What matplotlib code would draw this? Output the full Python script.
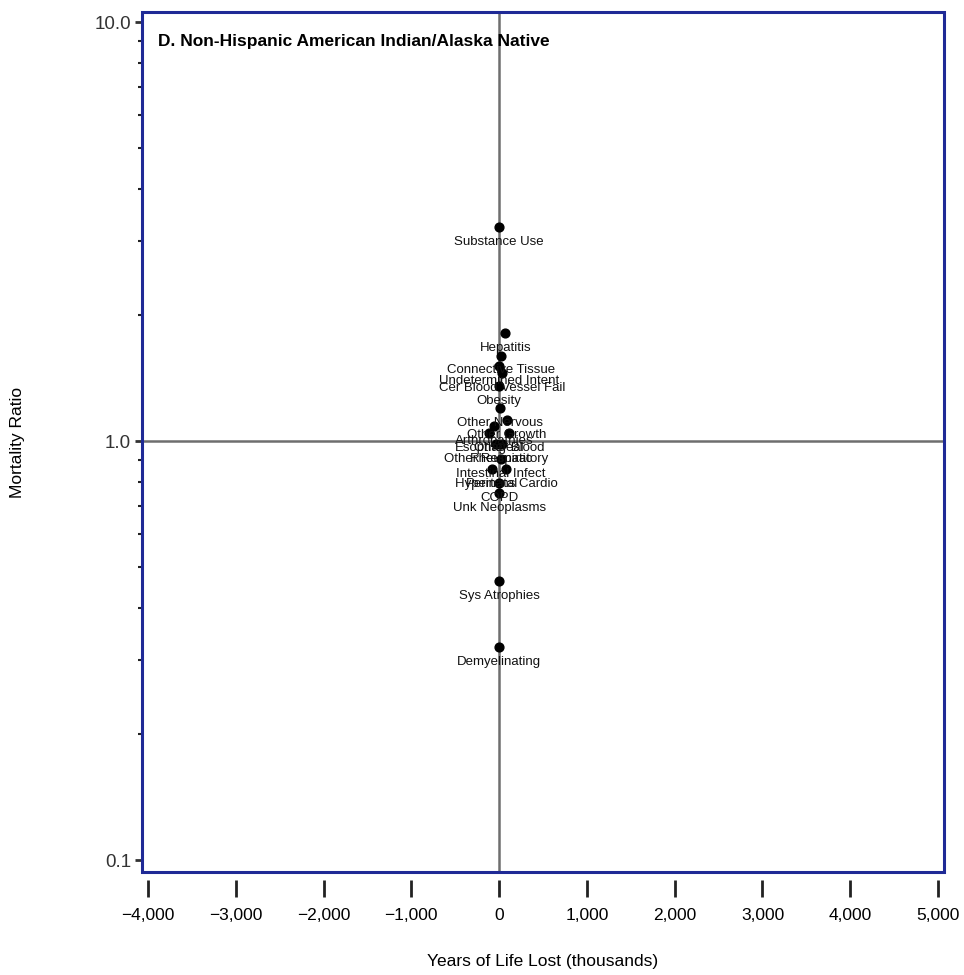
import matplotlib.pyplot as plt
from matplotlib.patches import Rectangle
from matplotlib.ticker import FuncFormatter, LogLocator

plt.rcParams['font.family'] = ['Liberation Sans', 'DejaVu Sans']

# cause labels, years of life lost (thousands) and mortality ratio
causes = ["Substance Use", "Hepatitis", "Connective Tissue", "Undetermined Intent",
          "Cer Blood Vessel Fail", "Obesity", "Other Nervous", "Other Growth",
          "Arthropathies", "Esophageal", "Other Blood", "Other Respiratory",
          "Rheumatic", "Intestinal Infect", "Perinatal", "Hypertens Cardio",
          "COPD", "Unk Neoplasms", "Sys Atrophies", "Demyelinating"]
yll = [0, 70, 20, 0, 30, 0, 10, 90, -60, -110, 110, -30, 30, 20, -80, 80,
       0, 0, 0, 0]
ratio = [3.24, 1.81, 1.60, 1.51, 1.45, 1.35, 1.20, 1.12, 1.086, 1.045, 1.045,
         0.984, 0.984, 0.906, 0.857, 0.857, 0.794, 0.751, 0.463, 0.322]

xticks = [-4000, -3000, -2000, -1000, 0, 1000, 2000, 3000, 4000, 5000]

fig = plt.figure(figsize=(9.64, 9.75), dpi=100)
ax = fig.add_axes([0.1473, 0.1056, 0.832, 0.882])

ax.axvline(0, color='#6e6e6e', lw=1.8, zorder=1)
ax.axhline(1.0, color='#6e6e6e', lw=1.8, zorder=1)

ax.scatter(yll, ratio, s=40, color='black', zorder=3)
for name, x, y in zip(causes, yll, ratio):
    ax.annotate(name, (x, y), xytext=(0, -10.5), textcoords='offset points',
                ha='center', va='center', fontsize=9.5, color='#111111',
                zorder=4)

ax.set_yscale('log')
ax.set_ylim(0.0936, 10.57)
ax.set_xlim(-4068, 5068)
ax.set_yticks([0.1, 1.0, 10.0])
ax.yaxis.set_major_formatter(FuncFormatter(lambda v, p: f"{v:.1f}"))
ax.yaxis.set_minor_locator(LogLocator(base=10, subs=range(2, 10)))
ax.yaxis.set_minor_formatter(FuncFormatter(lambda v, p: ""))
ax.set_xticks(xticks)
ax.set_xticklabels([f"{t:,}".replace("-", "\u2212") for t in xticks])

for s in ax.spines.values():
    s.set_visible(False)
ax.spines['bottom'].set_position(('outward', 6))
ax.add_patch(Rectangle((0, 0), 1, 1, transform=ax.transAxes, fill=False,
                       ec='#1f2a96', lw=2.2, clip_on=False, zorder=5))

ax.tick_params(axis='x', direction='out', length=12, width=2, pad=8,
               labelsize=12.5, color='#222222')
ax.tick_params(axis='y', which='major', direction='out', length=5, width=2,
               pad=3, labelsize=13.5, color='#333333', labelcolor='#333333')
ax.tick_params(axis='y', which='minor', direction='out', length=3, width=1.5,
               color='#222222')

ax.text(0.02, 0.975, "D. Non-Hispanic American Indian/Alaska Native",
        transform=ax.transAxes, ha='left', va='top', fontsize=12.5,
        fontweight='bold')

ax.set_xlabel("Years of Life Lost (thousands)", fontsize=12.5, labelpad=22)
ax.set_ylabel("Mortality Ratio", fontsize=12.5, labelpad=50)

fig.savefig("out.png", dpi=100)
